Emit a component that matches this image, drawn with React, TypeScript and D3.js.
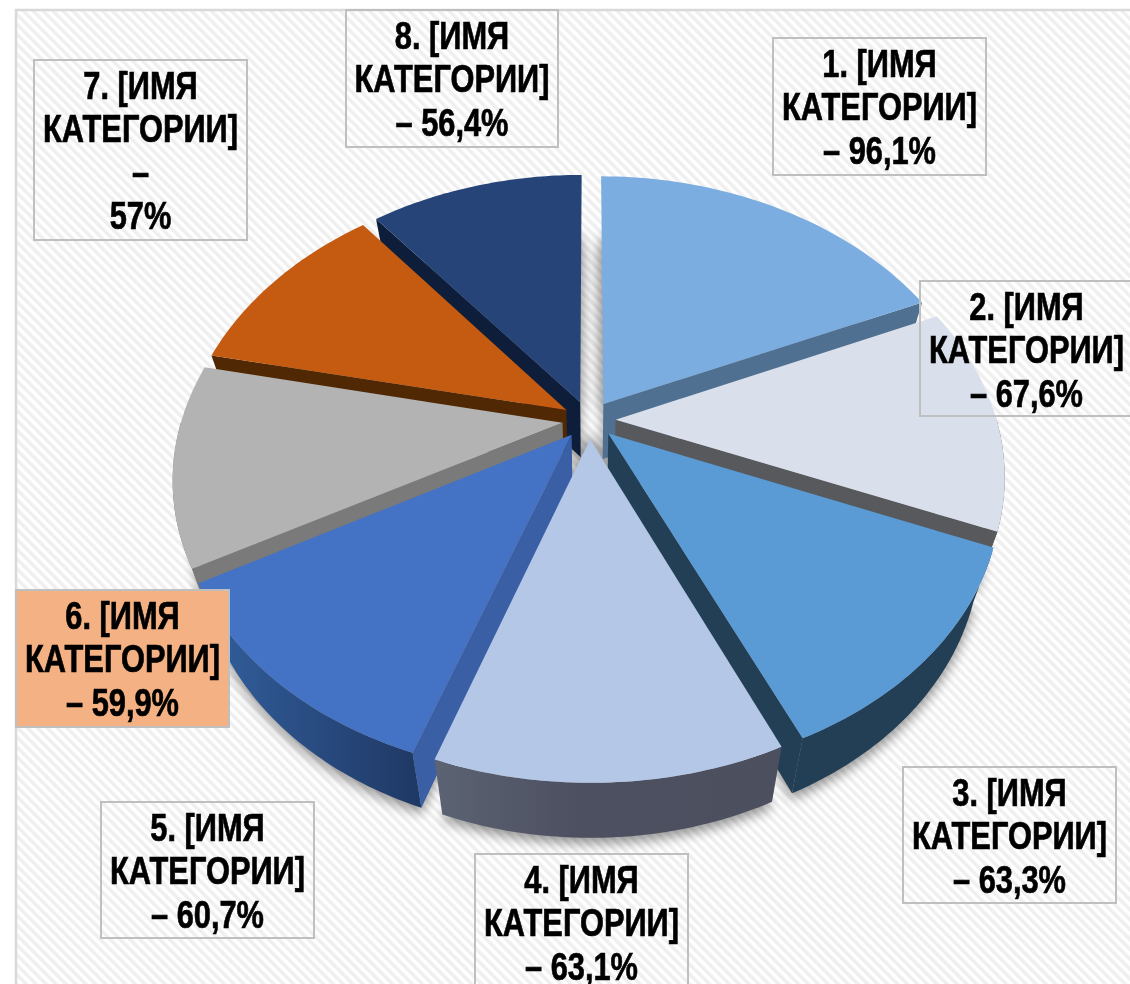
import * as d3 from 'd3';

// chart data
const categories = ['1. [ИМЯ', '2. [ИМЯ', '3. [ИМЯ', '4. [ИМЯ', '5. [ИМЯ', '6. [ИМЯ', '7. [ИМЯ', '8. [ИМЯ'];
const categoryWord = 'КАТЕГОРИИ]';
const values = [96.1, 67.6, 63.3, 63.1, 60.7, 59.9, 57, 56.4];
const valueLabels = ['– 96,1%', '– 67,6%', '– 63,3%', '– 63,1%', '– 60,7%', '– 59,9%', '–|57%', '– 56,4%'];

const topColors = ['#7BADE0', '#DAE0EB', '#5B9BD5', '#B4C7E7', '#4472C4', '#B3B3B3', '#C55A11', '#264478'];
const sideColors = ['#4F7090', '#58595D', '#233F55', '#4D5060', '#3A5FA5', '#7A7A7A', '#502803', '#0D1D3A'];
const rimFills = ['#4F7090', '#58595D', '#233F55', 'url(#rim4)', 'url(#rim5)', '#7A7A7A', '#502803', '#0D1D3A'];
// back slices first, the front one last
const drawOrder = [0, 7, 1, 6, 2, 5, 4, 3];
// label boxes: x, y, w, h
const boxes = [
  [773, 38, 213, 137],
  [920, 281, 213, 135],
  [903, 767, 213, 136],
  [475, 854, 213, 136],
  [101, 802, 213, 136],
  [16, 590, 213, 137],
  [34, 60, 213, 180],
  [346, 10, 212, 137],
];

const width = 1130;
const height = 984;
const cx = 589;
const cy = 420;
const S0 = 381;
const persp = 0.0005;
const depth = 55;
const explode = 0.07;
const steps = 48;

function project(X: number, Y: number): [number, number] {
  const s = 1 / (1 / S0 - persp * Y);
  const squash = 273.3 - 3.1 * Y;
  return [cx + X * s, cy + (squash * Y * s) / S0];
}

function drop(p: [number, number]): [number, number] {
  return [p[0] - (p[0] - cx) * 0.05, p[1] + depth];
}

const line = d3.line();
const closed = (pts: [number, number][]) => line(pts) + 'Z';

const arcs = d3.pie<number>().sort(null)(values);

const slices = arcs.map((a, i) => {
  const mid = (a.startAngle + a.endAngle) / 2;
  const ox = explode * Math.sin(mid);
  const oy = -explode * Math.cos(mid);
  const at = (ang: number, r: number) => project(ox + r * Math.sin(ang), oy - r * Math.cos(ang));
  const angles = d3.range(steps + 1).map(k => a.startAngle + ((a.endAngle - a.startAngle) * k) / steps);
  const apex = at(0, 0);
  const rimPts = angles.map(ang => at(ang, 1));
  const top = [apex, ...rimPts];
  const bottom = top.map(drop);
  // front-facing part of the rim only
  const from = Math.max(a.startAngle, Math.PI / 2);
  const to = Math.min(a.endAngle, (Math.PI * 3) / 2);
  let rim: [number, number][] | null = null;
  if (to > from) {
    const front = d3.range(steps + 1).map(k => at(from + ((to - from) * k) / steps, 1));
    rim = [...front, ...front.map(drop).reverse()];
  }
  const startPt = rimPts[0];
  const endPt = rimPts[steps];
  const startWall: [number, number][] = [apex, startPt, drop(startPt), drop(apex)];
  const endWall: [number, number][] = [apex, endPt, drop(endPt), drop(apex)];
  return { i, mid, top, bottom, rim, startWall, endWall };
});

export default function App() {
  return (
    <svg
      width={width}
      height={height}
      style={{ position: 'absolute', left: 0, top: 0, background: '#fff' }}
      fontFamily="'Liberation Sans', Arial, sans-serif"
    >
      <defs>
        <pattern id="hatch" width="7" height="7" patternUnits="userSpaceOnUse" patternTransform="rotate(-45)">
          <rect width="7" height="7" fill="#fff" />
          <rect width="3.5" height="7" fill="#EFEFEF" />
        </pattern>
        <filter id="blur" x="-10%" y="-10%" width="120%" height="120%">
          <feGaussianBlur stdDeviation="6" />
        </filter>
        <linearGradient id="rim4" x1="0" x2="1" y1="0" y2="0">
          <stop offset="0" stopColor="#5C6373" />
          <stop offset="0.4" stopColor="#4D5060" />
          <stop offset="1" stopColor="#4B4F5E" />
        </linearGradient>
        <linearGradient id="rim5" x1="0" x2="1" y1="0" y2="0">
          <stop offset="0" stopColor="#33609F" />
          <stop offset="1" stopColor="#1F3864" />
        </linearGradient>
      </defs>

      <rect x={16} y={10} width={width} height={height} fill="url(#hatch)" stroke="#D9D9D9" strokeWidth={2.5} />

      <g filter="url(#blur)" opacity={0.4}>
        {slices.map(s => (
          <path key={s.i} d={closed(s.bottom)} transform="translate(0,6)" fill="#000" />
        ))}
        {/* darkens the gap between the two back slices */}
        {slices.map(s => (
          <path key={s.i} d={closed(s.top)} transform={`translate(${cx},${cy}) scale(0.7) translate(${-cx},${-cy})`} fill="#000" />
        ))}
      </g>

      {drawOrder.map(i => {
        const s = slices[i];
        const leftSide = s.mid > Math.PI;
        const showWall = i !== 3;
        return (
          <g key={i}>
            {s.rim && <path d={closed(s.rim)} fill={rimFills[i]} />}
            {showWall && <path d={closed(leftSide ? s.startWall : s.endWall)} fill={sideColors[i]} />}
            <path d={closed(s.top)} fill={topColors[i]} />
          </g>
        );
      })}

      {boxes.map((b, i) => {
        const lines = [categories[i], categoryWord, ...valueLabels[i].split('|')];
        return (
          <g key={i}>
            <rect
              x={b[0]}
              y={b[1]}
              width={b[2]}
              height={b[3]}
              fill={i === 5 ? '#F4B183' : 'none'}
              stroke="#BFBFBF"
              strokeWidth={2}
            />
            {/* no narrow bold installed, so the text is squeezed sideways */}
            <g transform={`translate(${b[0] + b[2] / 2},0) scale(0.79,1)`}>
              <text textAnchor="middle" fontWeight="bold" fontSize={39} fill="#000" stroke="#000" strokeWidth={0.7}>
                {lines.map((t, k) => (
                  <tspan key={k} x={0} y={b[1] + 39 + k * 43.4}>
                    {t}
                  </tspan>
                ))}
              </text>
            </g>
          </g>
        );
      })}
    </svg>
  );
}
